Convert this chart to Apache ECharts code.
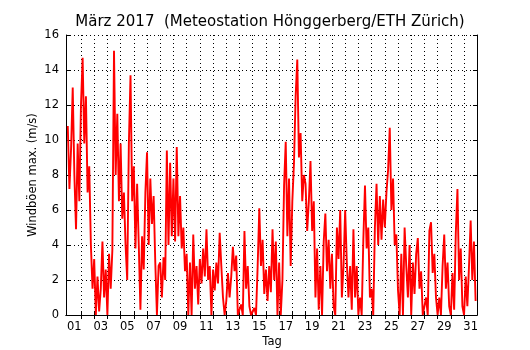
<!DOCTYPE html>
<html>
<head>
<meta charset="utf-8">
<script src="https://cdn.jsdelivr.net/npm/echarts@6/dist/echarts.min.js"></script>
<style>html,body{margin:0;padding:0;background:#fff}#c{width:530px;height:350px}</style>
</head>
<body>
<div id="c"></div>
<script>
// ---- chart data ----
const titleText = 'März 2017  (Meteostation Hönggerberg/ETH Zürich)';
const xAxisName = 'Tag';
const yAxisName = 'Windböen max. (m/s)';
const dayTickLabels = ['01','03','05','07','09','11','13','15','17','19','21','23','25','27','29','31'];
const yTickValues = [0, 2, 4, 6, 8, 10, 12, 14, 16];
const firstDay = 1;          // 1 March 00:00
const samplesPerDay = 8;     // 3-hourly readings
// max gusts (m/s), 8 readings per day, 1..31 March
const gustValues = [
  10.8, 7.2, 9.5, 13.0, 8.0, 4.9, 9.8, 6.5,
  12.0, 14.7, 9.8, 12.5, 7.0, 8.5, 4.0, 1.5,
  3.2, 0.0, 2.2, 0.2, 1.5, 4.2, 1.0, 2.6,
  0.0, 3.5, 1.5, 3.7, 15.1, 8.0, 11.5, 6.5,
  9.8, 5.5, 7.0, 4.0, 2.0, 9.8, 13.7, 6.5,
  8.5, 3.8, 7.5, 4.0, 0.3, 4.5, 2.6, 7.0,
  9.3, 4.0, 7.8, 5.2, 6.8, 3.0, 0.0, 2.8,
  3.0, 1.0, 3.3, 2.0, 9.4, 4.0, 8.7, 4.5,
  7.8, 4.2, 9.6, 4.5, 6.8, 3.8, 5.0, 2.5,
  3.5, 0.0, 3.0, 0.0, 4.6, 1.5, 2.8, 0.6,
  3.2, 1.8, 3.8, 2.2, 4.9, 2.0, 2.8, 0.0,
  2.6, 1.4, 3.0, 1.8, 4.7, 2.8, 1.0, 0.0,
  0.8, 2.4, 1.0, 2.2, 3.9, 2.5, 3.4, 0.0,
  0.0, 0.6, 0.0, 4.8, 1.5, 2.8, 0.5, 0.0,
  0.0, 0.4, 0.0, 2.8, 6.1, 2.8, 4.3, 1.2,
  2.6, 0.8, 2.8, 1.3, 4.9, 2.0, 4.2, 0.0,
  3.0, 0.0, 2.0, 7.4, 9.9, 4.5, 7.8, 2.8,
  6.5, 8.7, 12.5, 14.6, 9.0, 10.4, 6.5, 8.0,
  7.5, 4.8, 6.5, 8.8, 4.8, 6.5, 1.0, 3.8,
  0.3, 2.8, 0.0, 4.2, 5.8, 2.5, 4.3, 1.5,
  3.5, 0.5, 0.0, 5.0, 3.2, 6.0, 1.0, 2.8,
  6.0, 3.0, 1.0, 2.8, 0.3, 4.9, 1.0, 2.8,
  0.0, 1.0, 0.0, 4.3, 7.4, 3.8, 5.0, 1.0,
  1.5, 0.0, 5.0, 7.5, 4.0, 6.8, 4.3, 6.6,
  5.0, 7.0, 8.3, 10.7, 6.0, 7.8, 4.0, 4.6,
  1.4, 0.0, 3.5, 0.0, 5.0, 2.8, 1.0, 4.0,
  0.0, 3.0, 1.2, 3.5, 4.4, 1.5, 2.5, 0.0,
  0.0, 1.0, 0.0, 4.8, 5.3, 2.4, 3.5, 1.0,
  0.0, 1.0, 0.0, 2.8, 4.6, 1.5, 3.0, 0.5,
  0.0, 2.4, 0.3, 4.7, 7.2, 2.0, 3.8, 0.5,
  0.0, 2.2, 0.5, 2.8, 5.4, 2.0, 4.2, 0.8
];

// ---- build ----
const FONT = 'DejaVu Sans';
const xMin = 0.866, xMax = 31.98;
const seriesData = gustValues.map((v, i) => [firstDay + i / samplesPerDay, v]);
const midnightTicks = [];
for (let d = 2; d <= 31; d++) midnightTicks.push(d);
const labelValues = dayTickLabels.map(s => parseInt(s, 10) + 0.5);
const gridLine = { show: true, lineStyle: { color: '#000', width: 1, type: [1, 3] } };
const frameLine = { show: true, lineStyle: { color: '#000', width: 1 } };

const chart = echarts.init(document.getElementById('c'), null, { renderer: 'canvas' });
chart.setOption({
  animation: false,
  backgroundColor: '#fff',
  grid: { left: 66, top: 35, width: 411, height: 280, containLabel: false },
  xAxis: [{
    type: 'value', min: xMin, max: xMax, position: 'bottom',
    axisLine: frameLine,
    axisTick: { show: true, inside: true, length: 4, customValues: midnightTicks, lineStyle: { color: '#000' } },
    axisLabel: {
      customValues: labelValues,
      formatter: v => String(Math.floor(v)).padStart(2, '0'),
      fontFamily: FONT, fontSize: 11.5, color: '#000', margin: 6
    },
    splitLine: gridLine
  }, {
    type: 'value', min: xMin, max: xMax, position: 'top',
    axisLine: frameLine,
    axisTick: { show: true, inside: true, length: 4, customValues: midnightTicks, lineStyle: { color: '#000' } },
    axisLabel: { show: false },
    splitLine: { show: false }
  }],
  yAxis: [{
    type: 'value', min: yTickValues[0], max: yTickValues[yTickValues.length - 1], interval: 2, position: 'left',
    axisLine: frameLine,
    axisTick: { show: true, inside: true, length: 4, lineStyle: { color: '#000' } },
    axisLabel: { fontFamily: FONT, fontSize: 11.5, color: '#000', margin: 7 },
    splitLine: gridLine
  }, {
    type: 'value', min: yTickValues[0], max: yTickValues[yTickValues.length - 1], interval: 2, position: 'right',
    axisLine: frameLine,
    axisTick: { show: true, inside: true, length: 4, lineStyle: { color: '#000' } },
    axisLabel: { show: false },
    splitLine: { show: false }
  }],
  series: [{
    type: 'line', xAxisIndex: 0, yAxisIndex: 0,
    data: seriesData, showSymbol: false, symbol: 'none', sampling: null,
    lineStyle: { color: '#ff0000', width: 1.9 },
    z: 3
  }],
  graphic: [
    { type: 'text', x: 270, y: 22, style: { text: titleText, font: '15px "DejaVu Sans"', fill: '#000', textAlign: 'center', textVerticalAlign: 'middle' } },
    { type: 'text', x: 272, y: 342, style: { text: xAxisName, font: '11.5px "DejaVu Sans"', fill: '#000', textAlign: 'center', textVerticalAlign: 'middle' } },
    { type: 'text', x: 33, y: 175, rotation: Math.PI / 2, style: { text: yAxisName, font: '11.5px "DejaVu Sans"', fill: '#000', textAlign: 'center', textVerticalAlign: 'middle' } }
  ]
});
</script>
</body>
</html>
